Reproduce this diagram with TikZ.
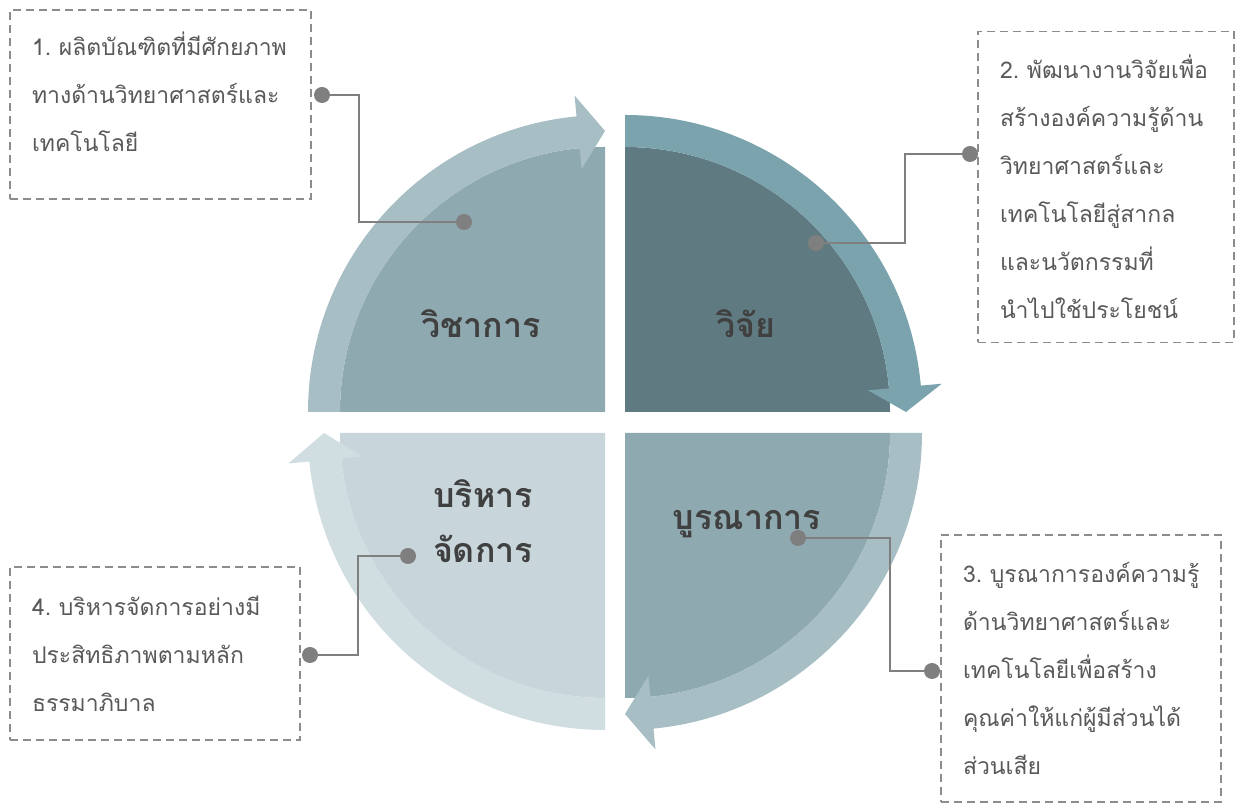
\documentclass[tikz,border=0pt]{standalone}
\usepackage{fontspec}
\newfontfamily\thaifont[Script=Thai]{Loma}
\usetikzlibrary{positioning}

\definecolor{tlfill}{HTML}{8FA9B0}
\definecolor{tlband}{HTML}{A7BEC5}
\definecolor{trfill}{HTML}{5F7B81}
\definecolor{trband}{HTML}{7AA3AD}
\definecolor{blfill}{HTML}{C8D6DB}
\definecolor{blband}{HTML}{D0DDE1}
\definecolor{linegrey}{HTML}{7F7F7F}
\definecolor{boxgrey}{HTML}{8C8C8C}
\definecolor{notetext}{HTML}{595959}
\definecolor{labeltext}{HTML}{404040}

\begin{document}
\begin{tikzpicture}[
    x=1pt, y=1pt,
    quad/.style={font=\thaifont\bfseries\fontsize{34}{55}\selectfont, text=labeltext, align=center},
    note/.style={draw=boxgrey, line width=1.5pt, dash pattern=on 8pt off 5pt,
        font=\thaifont\fontsize{23}{48}\selectfont, text=notetext, align=left,
        inner xsep=22pt, inner ysep=0pt},
    callout/.style={draw=linegrey, line width=2pt}
]
\useasboundingbox (0,0) rectangle (1236,805);

% top left
\begin{scope}[shift={(605,393)}]
\fill[tlfill] (0,0) -- (180:265) arc[start angle=180, end angle=90, radius=265] -- cycle;
\fill[tlband] (180:265) arc[start angle=180, end angle=95.5, radius=265] -- (95.5:244) -- (90:281)
    -- (95.5:318) -- (95.5:297) arc[start angle=95.5, end angle=180, radius=297] -- cycle;
\end{scope}
% top right
\begin{scope}[shift={(625,393)}]
\fill[trfill] (0,0) -- (90:265) arc[start angle=90, end angle=0, radius=265] -- cycle;
\fill[trband] (90:265) arc[start angle=90, end angle=5.1, radius=265] -- (5.1:244) -- (0:281)
    -- (5.1:318) -- (5.1:297) arc[start angle=5.1, end angle=90, radius=297] -- cycle;
\end{scope}
% bottom right
\begin{scope}[shift={(625,372)}]
\fill[tlfill] (0,0) -- (0:265) arc[start angle=0, end angle=-90, radius=265] -- cycle;
\fill[tlband] (0:265) arc[start angle=0, end angle=-84.5, radius=265] -- (-84.5:244) -- (-90:281)
    -- (-84.5:318) -- (-84.5:297) arc[start angle=-84.5, end angle=0, radius=297] -- cycle;
\end{scope}
% bottom left
\begin{scope}[shift={(605,372)}]
\fill[blfill] (0,0) -- (270:265) arc[start angle=270, end angle=180, radius=265] -- cycle;
\fill[blband] (270:265) arc[start angle=270, end angle=185.5, radius=265] -- (185.5:244) -- (180:281)
    -- (185.5:318) -- (185.5:297) arc[start angle=185.5, end angle=270, radius=297] -- cycle;
\end{scope}

\node[quad] (wichakan) at (481,481) {วิชาการ};
\node[quad] (wijai) at (746,481) {วิจัย};
\node[quad] (burana) at (747,281) {บูรณาการ};
\node[quad] (borihan) at (483,284) {บริหาร\\จัดการ};

\node[note, minimum width=301, minimum height=189, text width=257, text depth=122pt] (note1) at (160.5,700.5)
    {1.~ผลิตบัณฑิตที่มีศักยภาพ\\ทางด้านวิทยาศาสตร์และ\\เทคโนโลยี};
\node[note, minimum width=256, minimum height=311, text width=212] (note2) at (1106,618)
    {2.~พัฒนางานวิจัยเพื่อ\\สร้างองค์ความรู้ด้าน\\วิทยาศาสตร์และ\\เทคโนโลยีสู่สากล\\และนวัตกรรมที่\\นำไปใช้ประโยชน์};
\node[note, minimum width=280, minimum height=267, text width=236] (note3) at (1081,136.5)
    {3.~บูรณาการองค์ความรู้\\ด้านวิทยาศาสตร์และ\\เทคโนโลยีเพื่อสร้าง\\คุณค่าให้แก่ผู้มีส่วนได้\\ส่วนเสีย};
\node[note, minimum width=290, minimum height=173, text width=246] (note4) at (155,151.5)
    {4.~บริหารจัดการอย่างมี\\ประสิทธิภาพตามหลัก\\ธรรมาภิบาล};

\coordinate (p1) at (322,710);
\coordinate (q1) at (464,583);
\coordinate (p2) at (970,651);
\coordinate (q2) at (816,562);
\coordinate (p3) at (932,134);
\coordinate (q3) at (798,267);
\coordinate (p4) at (310,150);
\coordinate (q4) at (408,249);

\draw[callout] (p1) -- ++(37,0) |- (q1);
\draw[callout] (p2) -- ++(-65,0) |- (q2);
\draw[callout] (p3) -- ++(-42,0) |- (q3);
\draw[callout] (p4) -- ++(48,0) |- (q4);
\foreach \p in {p1,q1,p2,q2,p3,q3,p4,q4}
    \fill[linegrey] (\p) circle[radius=8];

\end{tikzpicture}
\end{document}
